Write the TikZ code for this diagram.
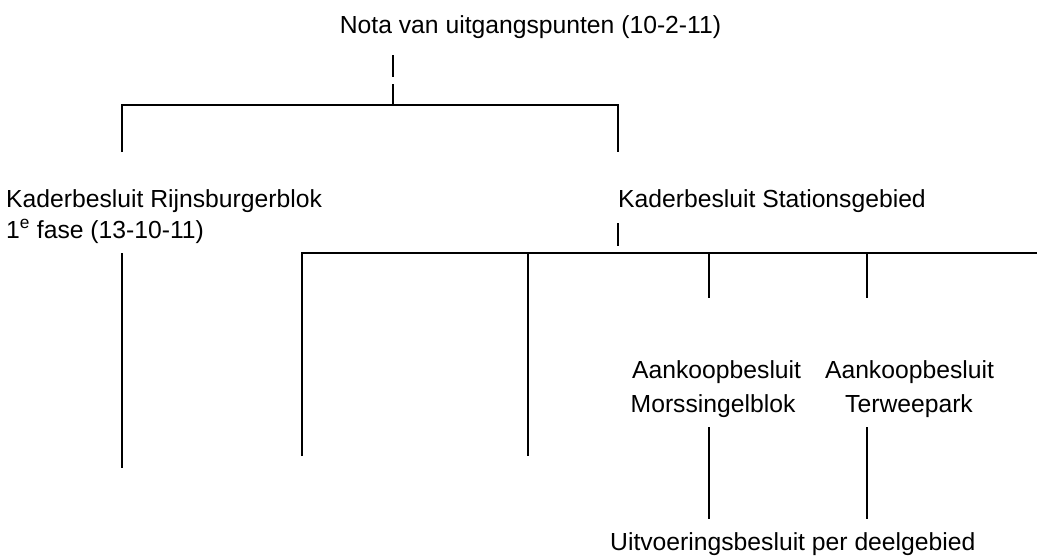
\documentclass[tikz,border=0pt]{standalone}
\usepackage{fontspec}
\setmainfont{Liberation Sans}
\begin{document}
\begin{tikzpicture}[x=1pt,y=-1pt,
  lbl/.style={inner sep=0pt,font=\fontsize{24.7}{30}\selectfont},
  tree/.style={line width=1.6pt,black}]
\useasboundingbox (0,0) rectangle (1037,555);
% texts
\node[lbl,anchor=base] (nota) at (530.5,33) {Nota van uitgangspunten (10-2-11)};
\node[lbl,anchor=base west] (rijns) at (6,207) {Kaderbesluit Rijnsburgerblok};
\node[lbl,anchor=base west] (rijnsb) at (6,238) {1\textsuperscript{e} fase (13-10-11)};
\node[lbl,anchor=base west] (station) at (618,207) {Kaderbesluit Stationsgebied};
\node[lbl,anchor=base west] (aank1) at (632,378) {Aankoopbesluit};
\node[lbl,anchor=base west] (mors) at (630.5,412) {Morssingelblok};
\node[lbl,anchor=base] (aank2) at (909.5,378) {Aankoopbesluit};
\node[lbl,anchor=base] (terwee) at (909,412) {Terweepark};
\node[lbl,anchor=base west] (uitv) at (610,550) {Uitvoeringsbesluit per deelgebied};
% coordinates
\coordinate (t1) at (393,55);
\coordinate (t2) at (393,77);
\coordinate (t3) at (393,84);
\coordinate (t4) at (393,106);
\coordinate (hl) at (122,105);
\coordinate (hr) at (618,105);
\coordinate (lb) at (122,152);
\coordinate (rb) at (618,152);
\coordinate (s1) at (618,223);
\coordinate (s2) at (618,246);
\coordinate (bl) at (302,253);
\coordinate (br) at (1037,253);
\coordinate (b1b) at (302,456);
\coordinate (b2t) at (528,253);
\coordinate (b2b) at (528,456);
\coordinate (b3t) at (709,253);
\coordinate (b3b) at (709,298);
\coordinate (b4t) at (867,253);
\coordinate (b4b) at (867,298);
\coordinate (rt) at (122,253);
\coordinate (rbt) at (122,468);
\coordinate (m1t) at (709,427);
\coordinate (m1b) at (709,519);
\coordinate (m2t) at (867,427);
\coordinate (m2b) at (867,519);
% connectors
\draw[tree] (t1) -- (t2);
\draw[tree] (t3) -- (t4);
\draw[tree] (lb) -- (hl) -- (hr) -- (rb);
\draw[tree] (s1) -- (s2);
\draw[tree] (b1b) -- (bl) -- (br);
\draw[tree] (b2t) -- (b2b);
\draw[tree] (b3t) -- (b3b);
\draw[tree] (b4t) -- (b4b);
\draw[tree] (rt) -- (rbt);
\draw[tree] (m1t) -- (m1b);
\draw[tree] (m2t) -- (m2b);
\end{tikzpicture}
\end{document}
